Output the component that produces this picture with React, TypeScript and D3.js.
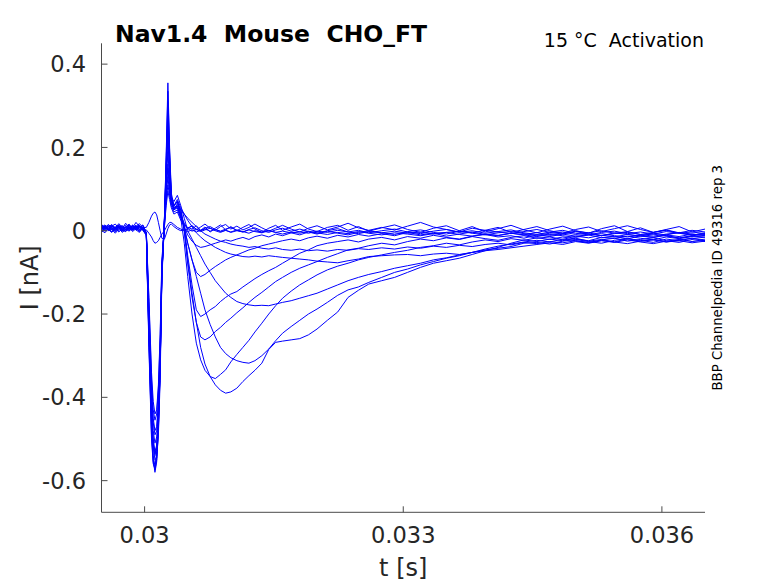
import React from 'react';
import * as d3 from 'd3';

// time grid in ms
const tMs = [
  29.50, 29.54, 29.58, 29.62, 29.66, 29.70, 29.74, 29.78, 29.82, 29.86, 29.90, 29.94, 29.98,
  30.02, 30.05, 30.08, 30.10, 30.12, 30.14, 30.16, 30.18, 30.20, 30.23, 30.25, 30.27, 30.29, 30.31, 30.34, 30.38,
  30.42, 30.46, 30.50, 30.55, 30.60, 30.65, 30.70, 30.76, 30.82, 30.88, 30.94, 31.00,
  31.07, 31.14, 31.21, 31.28, 31.36, 31.44, 31.52, 31.60,
  31.70, 31.80, 31.90, 32.00, 32.12, 32.24, 32.36, 32.48, 32.60,
  32.75, 32.90, 33.05, 33.20, 33.35, 33.50, 33.65, 33.80, 33.95, 34.10, 34.25, 34.40, 34.55,
  34.70, 34.85, 35.00, 35.15, 35.30, 35.45, 35.60, 35.75, 35.90, 36.05, 36.20, 36.35, 36.50,
];

const trace01 = [
  0.004, 0.010, 0.001, 0.007, -0.003, 0.006, 0.012, 0.002, 0.008, -0.002, 0.005, 0.011, 0.003,
  -0.010, -0.260, -0.480, -0.550, -0.580, -0.555, -0.480, -0.340, -0.110, 0.030, 0.180, 0.355, 0.200, 0.090, 0.060, 0.070,
  0.040, 0.000, -0.070, -0.150, -0.220, -0.280, -0.320, -0.350, -0.370, -0.383, -0.390, -0.387,
  -0.378, -0.362, -0.348, -0.335, -0.318, -0.285, -0.268, -0.265,
  -0.262, -0.259, -0.250, -0.236, -0.215, -0.195, -0.160, -0.143, -0.128,
  -0.120, -0.112, -0.100, -0.088, -0.078, -0.072, -0.066, -0.057, -0.048, -0.040, -0.030, -0.022, -0.026,
  -0.020, -0.024, -0.018, -0.025, -0.021, -0.027, -0.019, -0.023, -0.028, -0.020, -0.024, -0.018, -0.022,
];
const trace02 = [
  0.012, 0.003, 0.009, 0.015, 0.006, 0.000, 0.008, 0.013, 0.004, 0.010, 0.001, 0.007, 0.014,
  -0.005, -0.240, -0.460, -0.540, -0.565, -0.540, -0.470, -0.330, -0.100, 0.030, 0.170, 0.335, 0.190, 0.085, 0.050, 0.060,
  0.030, -0.030, -0.110, -0.200, -0.270, -0.310, -0.335, -0.350, -0.355, -0.345, -0.334, -0.315,
  -0.297, -0.280, -0.263, -0.243, -0.222, -0.200, -0.180, -0.162,
  -0.145, -0.130, -0.118, -0.106, -0.094, -0.085, -0.078, -0.070, -0.064,
  -0.058, -0.052, -0.047, -0.040, -0.036, -0.030, -0.034, -0.027, -0.022, -0.026, -0.019, -0.023, -0.017,
  -0.021, -0.015, -0.020, -0.024, -0.016, -0.019, -0.013, -0.018, -0.022, -0.015, -0.019, -0.014, -0.017,
];
const trace03 = [
  -0.004, 0.005, 0.011, 0.002, 0.008, 0.014, 0.004, -0.001, 0.007, 0.012, 0.003, 0.009, 0.000,
  -0.010, -0.280, -0.500, -0.560, -0.570, -0.530, -0.450, -0.310, -0.090, 0.020, 0.160, 0.310, 0.180, 0.080, 0.060, 0.070,
  0.040, 0.010, -0.030, -0.070, -0.110, -0.150, -0.190, -0.225, -0.255, -0.280, -0.295, -0.305,
  -0.312, -0.316, -0.318, -0.312, -0.300, -0.284, -0.264, -0.246,
  -0.230, -0.215, -0.200, -0.188, -0.172, -0.155, -0.142, -0.135, -0.124,
  -0.112, -0.100, -0.092, -0.082, -0.074, -0.066, -0.060, -0.052, -0.044, -0.037, -0.032, -0.027, -0.023,
  -0.027, -0.020, -0.024, -0.029, -0.022, -0.018, -0.025, -0.021, -0.017, -0.024, -0.028, -0.021, -0.026,
];
const trace04 = [
  0.008, 0.014, 0.004, -0.002, 0.006, 0.011, 0.001, 0.009, 0.016, 0.005, 0.010, -0.001, 0.006,
  -0.008, -0.220, -0.440, -0.520, -0.550, -0.545, -0.490, -0.360, -0.120, 0.025, 0.150, 0.280, 0.170, 0.080, 0.050, 0.065,
  0.050, 0.000, -0.080, -0.160, -0.220, -0.255, -0.262, -0.255, -0.242, -0.232, -0.220, -0.210,
  -0.197, -0.185, -0.172, -0.160, -0.148, -0.135, -0.122, -0.112,
  -0.100, -0.090, -0.082, -0.074, -0.064, -0.055, -0.046, -0.042, -0.036,
  -0.030, -0.034, -0.026, -0.020, -0.024, -0.017, -0.021, -0.014, -0.019, -0.023, -0.016, -0.012, -0.018,
  -0.015, -0.021, -0.013, -0.010, -0.017, -0.014, -0.020, -0.012, -0.016, -0.011, -0.018, -0.013, -0.015,
];
const trace05 = [
  0.001, -0.005, 0.006, 0.012, 0.003, 0.009, -0.001, 0.004, 0.011, 0.002, 0.008, 0.013, 0.003,
  -0.012, -0.250, -0.450, -0.515, -0.540, -0.520, -0.450, -0.320, -0.100, 0.020, 0.140, 0.250, 0.150, 0.075, 0.060, 0.070,
  0.050, 0.010, -0.060, -0.130, -0.190, -0.206, -0.200, -0.190, -0.182, -0.170, -0.160, -0.152,
  -0.146, -0.135, -0.125, -0.115, -0.105, -0.096, -0.088, -0.078,
  -0.066, -0.054, -0.046, -0.036, -0.030, -0.026, -0.022, -0.027, -0.020,
  -0.016, -0.022, -0.014, -0.018, -0.011, -0.016, -0.020, -0.013, -0.009, -0.015, -0.012, -0.018, -0.010,
  -0.014, -0.008, -0.013, -0.017, -0.011, -0.015, -0.009, -0.013, -0.016, -0.010, -0.014, -0.008, -0.012,
];
const trace06 = [
  0.010, 0.004, 0.015, 0.007, 0.001, 0.012, 0.005, 0.018, 0.008, 0.002, 0.011, 0.006, 0.013,
  -0.005, -0.230, -0.430, -0.500, -0.530, -0.515, -0.460, -0.330, -0.110, 0.030, 0.130, 0.220, 0.140, 0.080, 0.070, 0.085,
  0.060, 0.030, 0.000, -0.020, -0.040, -0.060, -0.080, -0.100, -0.120, -0.135, -0.150, -0.160,
  -0.170, -0.175, -0.178, -0.180, -0.179, -0.180, -0.176, -0.172,
  -0.168, -0.162, -0.156, -0.150, -0.140, -0.130, -0.120, -0.112, -0.105,
  -0.098, -0.090, -0.084, -0.078, -0.070, -0.065, -0.058, -0.052, -0.046, -0.042, -0.038, -0.030, -0.028,
  -0.032, -0.025, -0.021, -0.026, -0.030, -0.023, -0.019, -0.025, -0.021, -0.027, -0.022, -0.018, -0.024,
];
const trace07 = [
  0.006, 0.012, 0.000, 0.005, 0.010, -0.003, 0.004, 0.009, 0.001, 0.014, 0.006, -0.002, 0.007,
  -0.010, -0.210, -0.410, -0.480, -0.510, -0.495, -0.430, -0.300, -0.090, 0.020, 0.110, 0.190, 0.120, 0.070, 0.050, 0.060,
  0.040, 0.005, -0.030, -0.070, -0.100, -0.110, -0.105, -0.095, -0.086, -0.078, -0.070, -0.064,
  -0.058, -0.052, -0.046, -0.042, -0.036, -0.032, -0.028, -0.024,
  -0.020, -0.024, -0.017, -0.013, -0.018, -0.011, -0.015, -0.009, -0.013,
  -0.007, -0.012, -0.004, -0.010, -0.006, -0.013, -0.008, -0.003, -0.009, -0.012, -0.006, -0.010, -0.004,
  -0.011, -0.007, -0.002, -0.008, -0.012, -0.005, -0.009, -0.013, -0.006, -0.010, -0.004, -0.008, -0.011,
];
const trace08 = [
  0.014, 0.007, 0.002, 0.011, 0.016, 0.006, 0.000, 0.009, 0.013, 0.004, 0.010, 0.017, 0.008,
  -0.006, -0.190, -0.380, -0.450, -0.480, -0.470, -0.410, -0.290, -0.090, 0.015, 0.100, 0.160, 0.110, 0.075, 0.060, 0.075,
  0.055, 0.040, 0.025, 0.010, -0.005, -0.015, -0.024, -0.032, -0.040, -0.046, -0.052, -0.056,
  -0.059, -0.062, -0.063, -0.061, -0.063, -0.060, -0.062, -0.064,
  -0.066, -0.068, -0.070, -0.073, -0.075, -0.077, -0.072, -0.068, -0.062,
  -0.060, -0.058, -0.057, -0.060, -0.056, -0.054, -0.057, -0.052, -0.048, -0.045, -0.041, -0.037, -0.033,
  -0.029, -0.033, -0.026, -0.030, -0.024, -0.028, -0.022, -0.027, -0.031, -0.025, -0.021, -0.026, -0.023,
];
const trace09 = [
  -0.002, 0.006, 0.010, 0.003, -0.006, 0.004, 0.008, -0.001, 0.005, 0.011, 0.002, -0.004, 0.006,
  -0.004, -0.170, -0.360, -0.430, -0.455, -0.440, -0.380, -0.260, -0.080, 0.015, 0.080, 0.130, 0.090, 0.065, 0.050, 0.055,
  0.035, 0.010, -0.010, -0.025, -0.035, -0.040, -0.038, -0.034, -0.030, -0.026, -0.022, -0.025,
  -0.020, -0.016, -0.021, -0.014, -0.010, -0.015, -0.008, -0.012,
  -0.005, -0.010, -0.003, -0.008, -0.001, -0.006, -0.010, -0.004, 0.000,
  -0.005, -0.009, -0.002, 0.002, -0.004, -0.008, -0.001, -0.005, 0.001, -0.003, -0.007, -0.002, 0.003,
  -0.004, -0.008, -0.001, -0.005, 0.000, -0.006, -0.002, -0.009, -0.004, 0.001, -0.006, -0.003, -0.007,
];
const trace10 = [
  0.009, 0.001, 0.007, 0.013, 0.005, 0.010, 0.002, 0.008, 0.014, 0.003, 0.007, 0.012, 0.004,
  -0.006, -0.200, -0.390, -0.460, -0.490, -0.480, -0.420, -0.300, -0.100, 0.010, 0.070, 0.110, 0.085, 0.065, 0.055, 0.060,
  0.050, 0.040, 0.030, 0.020, 0.010, 0.000, -0.008, -0.014, -0.020, -0.025, -0.028, -0.032,
  -0.035, -0.037, -0.040, -0.038, -0.042, -0.044, -0.041, -0.045,
  -0.047, -0.044, -0.048, -0.046, -0.049, -0.045, -0.047, -0.043, -0.045,
  -0.041, -0.044, -0.039, -0.042, -0.037, -0.040, -0.035, -0.038, -0.033, -0.030, -0.034, -0.028, -0.031,
  -0.026, -0.029, -0.024, -0.028, -0.023, -0.027, -0.031, -0.025, -0.022, -0.027, -0.024, -0.029, -0.025,
];
const trace11 = [
  0.000, 0.008, 0.003, -0.004, 0.005, 0.010, 0.001, -0.002, 0.006, 0.012, 0.004, 0.000, 0.007,
  -0.008, -0.230, -0.440, -0.510, -0.535, -0.520, -0.460, -0.330, -0.110, 0.020, 0.100, 0.150, 0.100, 0.060, 0.045, 0.050,
  0.030, 0.015, 0.008, 0.004, 0.012, 0.001, 0.009, -0.003, 0.006, 0.014, 0.002, 0.010,
  0.000, 0.008, 0.015, 0.004, -0.004, 0.006, 0.013, 0.001,
  0.009, 0.016, 0.004, -0.002, 0.008, 0.013, 0.001, 0.010, -0.001,
  0.007, 0.014, 0.003, -0.004, 0.006, 0.012, 0.000, 0.010, -0.003, 0.005, 0.013, 0.002, -0.005,
  0.004, 0.011, 0.000, -0.006, 0.005, 0.012, -0.002, 0.007, -0.004, 0.003, 0.010, -0.003, 0.004,
];
const trace12 = [
  0.015, 0.008, 0.003, 0.012, 0.006, 0.017, 0.009, 0.004, 0.013, 0.007, 0.020, 0.010, 0.005,
  -0.004, -0.160, -0.340, -0.410, -0.440, -0.430, -0.370, -0.250, -0.070, 0.010, 0.060, 0.095, 0.075, 0.055, 0.040, 0.045,
  0.025, 0.012, 0.005, 0.013, 0.002, 0.009, 0.016, 0.006, 0.001, 0.010, 0.015, 0.004,
  0.011, 0.002, 0.008, 0.016, 0.007, -0.001, 0.006, 0.013,
  0.004, -0.003, 0.006, 0.012, 0.002, 0.009, 0.018, 0.007, 0.001,
  0.008, 0.002, 0.011, 0.020, 0.009, 0.003, -0.003, 0.006, 0.001, 0.008, -0.004, 0.003, 0.010,
  0.000, -0.006, 0.003, 0.009, -0.002, 0.005, 0.012, 0.003, -0.004, 0.002, -0.005, 0.001, -0.003,
];
const trace13 = [
  0.005, 0.011, 0.002, -0.003, 0.007, 0.013, 0.004, 0.009, 0.000, 0.006, 0.012, 0.003, 0.008,
  0.008, 0.020, 0.035, 0.042, 0.045, 0.038, 0.020, 0.000, -0.018, -0.020, -0.008, 0.005, 0.014, 0.016, 0.010, 0.004,
  0.000, 0.003, -0.002, 0.002, -0.003, 0.001, 0.004, -0.001, 0.003, -0.002, 0.001, -0.004,
  0.000, -0.003, 0.002, -0.002, -0.005, 0.000, -0.004, -0.001,
  -0.005, -0.002, -0.006, -0.001, -0.004, 0.001, -0.003, -0.007, -0.002,
  -0.005, -0.001, -0.006, -0.003, -0.008, -0.004, -0.001, -0.006, -0.010, -0.005, -0.002, -0.007, -0.011,
  -0.006, -0.003, -0.009, -0.005, -0.012, -0.007, -0.004, -0.009, -0.013, -0.008, -0.005, -0.010, -0.007,
];
const trace14 = [
  0.007, -0.001, 0.004, 0.010, 0.002, 0.008, -0.004, 0.003, 0.009, 0.001, 0.006, 0.011, 0.002,
  0.002, -0.006, -0.015, -0.024, -0.030, -0.028, -0.024, -0.016, -0.008, 0.000, 0.008, 0.015, 0.020, 0.020, 0.015, 0.008,
  0.004, 0.000, 0.005, -0.001, 0.003, -0.002, 0.002, 0.006, 0.000, -0.004, 0.001, -0.003,
  0.002, -0.002, -0.006, 0.000, -0.003, 0.001, -0.004, -0.008,
  -0.003, -0.006, -0.001, -0.005, -0.009, -0.004, -0.007, -0.002, -0.006,
  -0.010, -0.005, -0.008, -0.012, -0.007, -0.004, -0.009, -0.013, -0.008, -0.011, -0.006, -0.010, -0.014,
  -0.009, -0.012, -0.016, -0.010, -0.007, -0.012, -0.015, -0.011, -0.008, -0.013, -0.017, -0.012, -0.009,
];
const trace15 = [
  0.003, 0.009, 0.014, 0.005, 0.000, 0.008, 0.012, 0.004, -0.001, 0.007, 0.013, 0.002, 0.009,
  -0.010, -0.270, -0.490, -0.555, -0.575, -0.550, -0.475, -0.335, -0.105, 0.025, 0.150, 0.270, 0.160, 0.080, 0.060, 0.055,
  0.035, 0.018, 0.006, 0.011, 0.004, 0.000, 0.006, 0.010, 0.003, -0.001, 0.004, 0.008,
  0.001, -0.003, 0.003, 0.007, 0.000, -0.004, 0.002, 0.006,
  -0.001, 0.004, -0.002, -0.006, 0.000, 0.005, -0.003, 0.001, -0.005,
  0.000, 0.004, -0.003, -0.007, -0.001, 0.003, -0.004, 0.000, -0.006, -0.002, 0.002, -0.005, -0.009,
  -0.003, 0.001, -0.006, -0.010, -0.004, -0.001, -0.007, -0.003, -0.008, -0.002, -0.006, -0.011, -0.005,
];

const traces = [
  trace01, trace02, trace03, trace04, trace05, trace06, trace07, trace08,
  trace09, trace10, trace11, trace12, trace13, trace14, trace15,
];

const xTicks = [0.03, 0.033, 0.036];
const xTickLabels = ['0.03', '0.033', '0.036'];
const yTicks = [-0.6, -0.4, -0.2, 0, 0.2, 0.4];
const yTickLabels = ['-0.6', '-0.4', '-0.2', '0', '0.2', '0.4'];

const titleText = 'Nav1.4  Mouse  CHO_FT';
const subtitleText = '15 °C  Activation';
const sideText = 'BBP Channelpedia ID 49316 rep 3';
const xLabel = 't [s]';
const yLabel = 'I [nA]';

export default function App() {
  const W = 778;
  const H = 583;
  const left = 101.5;
  const right = 705;
  const top = 43.3;
  const bottom = 512.3;
  const x = d3.scaleLinear().domain([0.0295, 0.0365]).range([left, right]);
  const y = d3.scaleLinear().domain([-0.676, 0.45]).range([bottom, top]);
  const line = d3
    .line<number>()
    .x((_, i) => x(tMs[i] / 1000))
    .y((d) => y(d));
  const axisColor = '#4a4a4a';
  const textColor = '#262626';
  const font = 'DejaVu Sans';

  return (
    <svg
      width={W}
      height={H}
      style={{ position: 'fixed', left: 0, top: 0, background: '#fff' }}
      fontFamily={font}
    >
      <rect x={0} y={0} width={W} height={H} fill="#fff" />
      <defs>
        <clipPath id="plotclip">
          <rect x={left} y={top} width={right - left} height={bottom - top} />
        </clipPath>
      </defs>
      <g clipPath="url(#plotclip)">
        {traces.map((tr, k) => (
          <path key={k} d={line(tr) || ''} fill="none" stroke="#0000ff" strokeWidth={1} strokeLinejoin="round" />
        ))}
      </g>
      <line x1={left} x2={left} y1={top} y2={bottom} stroke={axisColor} strokeWidth={1} />
      <line x1={left} x2={right} y1={bottom} y2={bottom} stroke={axisColor} strokeWidth={1} />
      {yTicks.map((v, i) => (
        <g key={'y' + i}>
          <line x1={left} x2={left + 6} y1={y(v)} y2={y(v)} stroke={axisColor} strokeWidth={1} />
          <text x={86} y={y(v)} dy="0.36em" textAnchor="end" fontSize={22.5} fill={textColor}>
            {yTickLabels[i]}
          </text>
        </g>
      ))}
      {xTicks.map((v, i) => (
        <g key={'x' + i}>
          <line x1={x(v)} x2={x(v)} y1={bottom} y2={bottom - 6} stroke={axisColor} strokeWidth={1} />
          <text x={x(v)} y={543} textAnchor="middle" fontSize={22.5} fill={textColor}>
            {xTickLabels[i]}
          </text>
        </g>
      ))}
      <text x={(left + right) / 2} y={576} textAnchor="middle" fontSize={24} fill={textColor}>
        {xLabel}
      </text>
      <text
        transform={`translate(38,${(top + bottom) / 2}) rotate(-90)`}
        textAnchor="middle"
        fontSize={24}
        fill={textColor}
      >
        {yLabel}
      </text>
      <text x={115} y={42} fontSize={23.5} fontWeight="bold" fill="#000" style={{ whiteSpace: 'pre' }}>
        {titleText}
      </text>
      <text x={704} y={47} textAnchor="end" fontSize={19} fill="#000" style={{ whiteSpace: 'pre' }}>
        {subtitleText}
      </text>
      <text
        transform={`translate(722,${(top + bottom) / 2}) rotate(-90)`}
        textAnchor="middle"
        fontSize={13.3}
        fill="#000"
      >
        {sideText}
      </text>
    </svg>
  );
}
